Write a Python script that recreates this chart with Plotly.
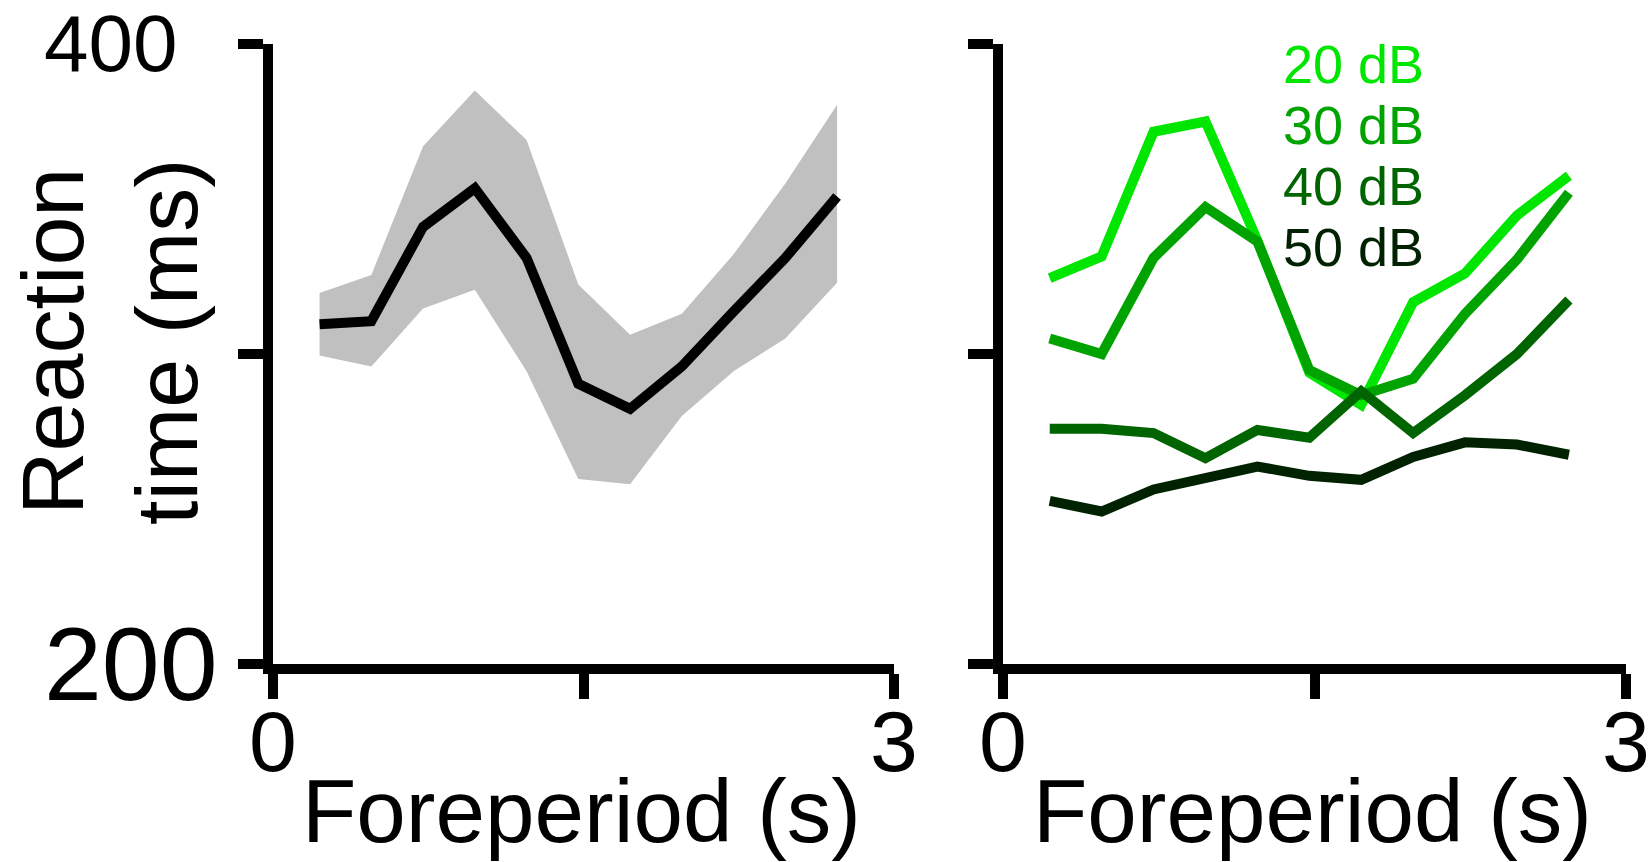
import plotly.graph_objects as go

# ---- data ----
foreperiod = [0.225, 0.475, 0.725, 0.975, 1.225, 1.475, 1.725, 1.975, 2.225, 2.475, 2.725]

rt_mean = [309.6, 310.6, 341.0, 353.5, 331.0, 290.4, 282.3, 296.0, 313.7, 331.0, 350.8]
rt_upper = [319.7, 325.5, 367.0, 385.0, 369.0, 322.4, 306.2, 313.0, 332.2, 355.0, 380.4]
rt_lower = [299.5, 296.0, 314.7, 320.7, 294.4, 259.7, 258.0, 280.0, 294.4, 305.0, 323.0]

levels = ["20 dB", "30 dB", "40 dB", "50 dB"]
rt_20db = [324.5, 331.5, 371.7, 375.0, 336.6, 294.0, 283.6, 316.7, 326.0, 344.7, 357.5]
rt_30db = [305.0, 300.0, 331.0, 347.4, 336.3, 294.8, 286.7, 292.0, 313.0, 330.5, 352.0]
rt_40db = [275.9, 275.9, 274.5, 266.4, 275.5, 273.0, 288.0, 274.5, 286.7, 300.0, 317.4]
rt_50db = [252.6, 249.2, 256.3, 259.7, 263.7, 260.7, 259.4, 266.8, 271.5, 270.8, 267.5]
level_series = [rt_20db, rt_30db, rt_40db, rt_50db]
level_colors = ["#00E600", "#00A300", "#006400", "#002200"]

x_ticks = [0, 1.5, 3]
x_ticktext = ["0", "", "3"]
y_ticks = [200, 300, 400]
y_label_vals = [400, 200]
y_label_text = ["400", "200"]
y_label_sizes = [80, 104]

x_title = "Foreperiod (s)"
y_title_lines = ["Reaction", "time (ms)"]

FONT = "Liberation Sans, Arial, sans-serif"
W, H = 1650, 862

fig = go.Figure()

# SEM band (left)
fig.add_trace(go.Scatter(
    x=foreperiod + foreperiod[::-1],
    y=rt_upper + rt_lower[::-1],
    fill="toself", fillcolor="#C0C0C0", line=dict(width=0),
    mode="lines", hoverinfo="skip", showlegend=False,
    xaxis="x", yaxis="y"))
fig.add_trace(go.Scatter(
    x=foreperiod, y=rt_mean, mode="lines",
    line=dict(color="black", width=10), showlegend=False,
    xaxis="x", yaxis="y"))

for name, ys, col in zip(levels, level_series, level_colors):
    fig.add_trace(go.Scatter(
        x=foreperiod, y=ys, mode="lines", name=name,
        line=dict(color=col, width=10), showlegend=False,
        xaxis="x2", yaxis="y2"))

axis_common = dict(
    showline=True, linecolor="black", linewidth=10,
    ticks="outside", ticklen=25, tickwidth=10, tickcolor="black",
    showgrid=False, zeroline=False, automargin=False,
)
x_axis_extra = dict(tickvals=x_ticks, ticktext=x_ticktext, range=[0, 3],
                    tickfont=dict(family=FONT, size=86, color="black"),
                    ticklabelstandoff=-31, ticklabeloverflow="allow")
y_axis_extra = dict(tickvals=y_ticks, ticktext=["", "", ""], range=[200, 400],
                    showticklabels=False)

xdom1 = [273 / W, 894 / W]
xdom2 = [1003 / W, 1626 / W]
y_dom = [(H - 664) / H, (H - 44) / H]

fig.update_layout(
    width=W, height=H,
    margin=dict(l=0, r=0, t=0, b=0),
    paper_bgcolor="white", plot_bgcolor="white",
    font=dict(family=FONT, color="black"),
    showlegend=False,
    xaxis=dict(domain=xdom1, anchor="y", **x_axis_extra, **axis_common),
    yaxis=dict(domain=y_dom, anchor="x", **y_axis_extra, **axis_common),
    xaxis2=dict(domain=xdom2, anchor="y2", **x_axis_extra, **axis_common),
    yaxis2=dict(domain=y_dom, anchor="x2", **y_axis_extra, **axis_common),
)

# y tick labels (left-aligned, as in the reference)
for val, txt, sz in zip(y_label_vals, y_label_text, y_label_sizes):
    fig.add_annotation(x=42 / W, y=val, xref="paper", yref="y",
                       xanchor="left", yanchor="middle", text=txt, showarrow=False,
                       font=dict(family=FONT, size=sz, color="black"))

# axis titles
for dom in (xdom1, xdom2):
    fig.add_annotation(x=(dom[0] + dom[1]) / 2 - 2 / W, y=(H - 811) / H, xref="paper", yref="paper",
                       xanchor="center", yanchor="middle", text=x_title, showarrow=False,
                       borderpad=0, font=dict(family=FONT, size=89, color="black"))
fig.add_annotation(x=52 / W, y=(H - 342) / H, xref="paper", yref="paper",
                   xanchor="center", yanchor="middle", textangle=-90,
                   text=y_title_lines[0], showarrow=False,
                   font=dict(family=FONT, size=88, color="black"))
fig.add_annotation(x=166 / W, y=(H - 342) / H, xref="paper", yref="paper",
                   xanchor="center", yanchor="middle", textangle=-90,
                   text=y_title_lines[1], showarrow=False,
                   font=dict(family=FONT, size=88, color="black"))

# colored text legend (one block, per-line colours)
legend_html = "<br>".join(
    f"<span style='color:{c};font-size:54px'>{n}</span>" for n, c in zip(levels, level_colors))
fig.add_annotation(x=1281 / W, y=(H - 32) / H, xref="paper", yref="paper",
                   xanchor="left", yanchor="top", align="left", text=legend_html,
                   showarrow=False, font=dict(family=FONT, size=47, color="black"))

fig.write_html("out.html")
